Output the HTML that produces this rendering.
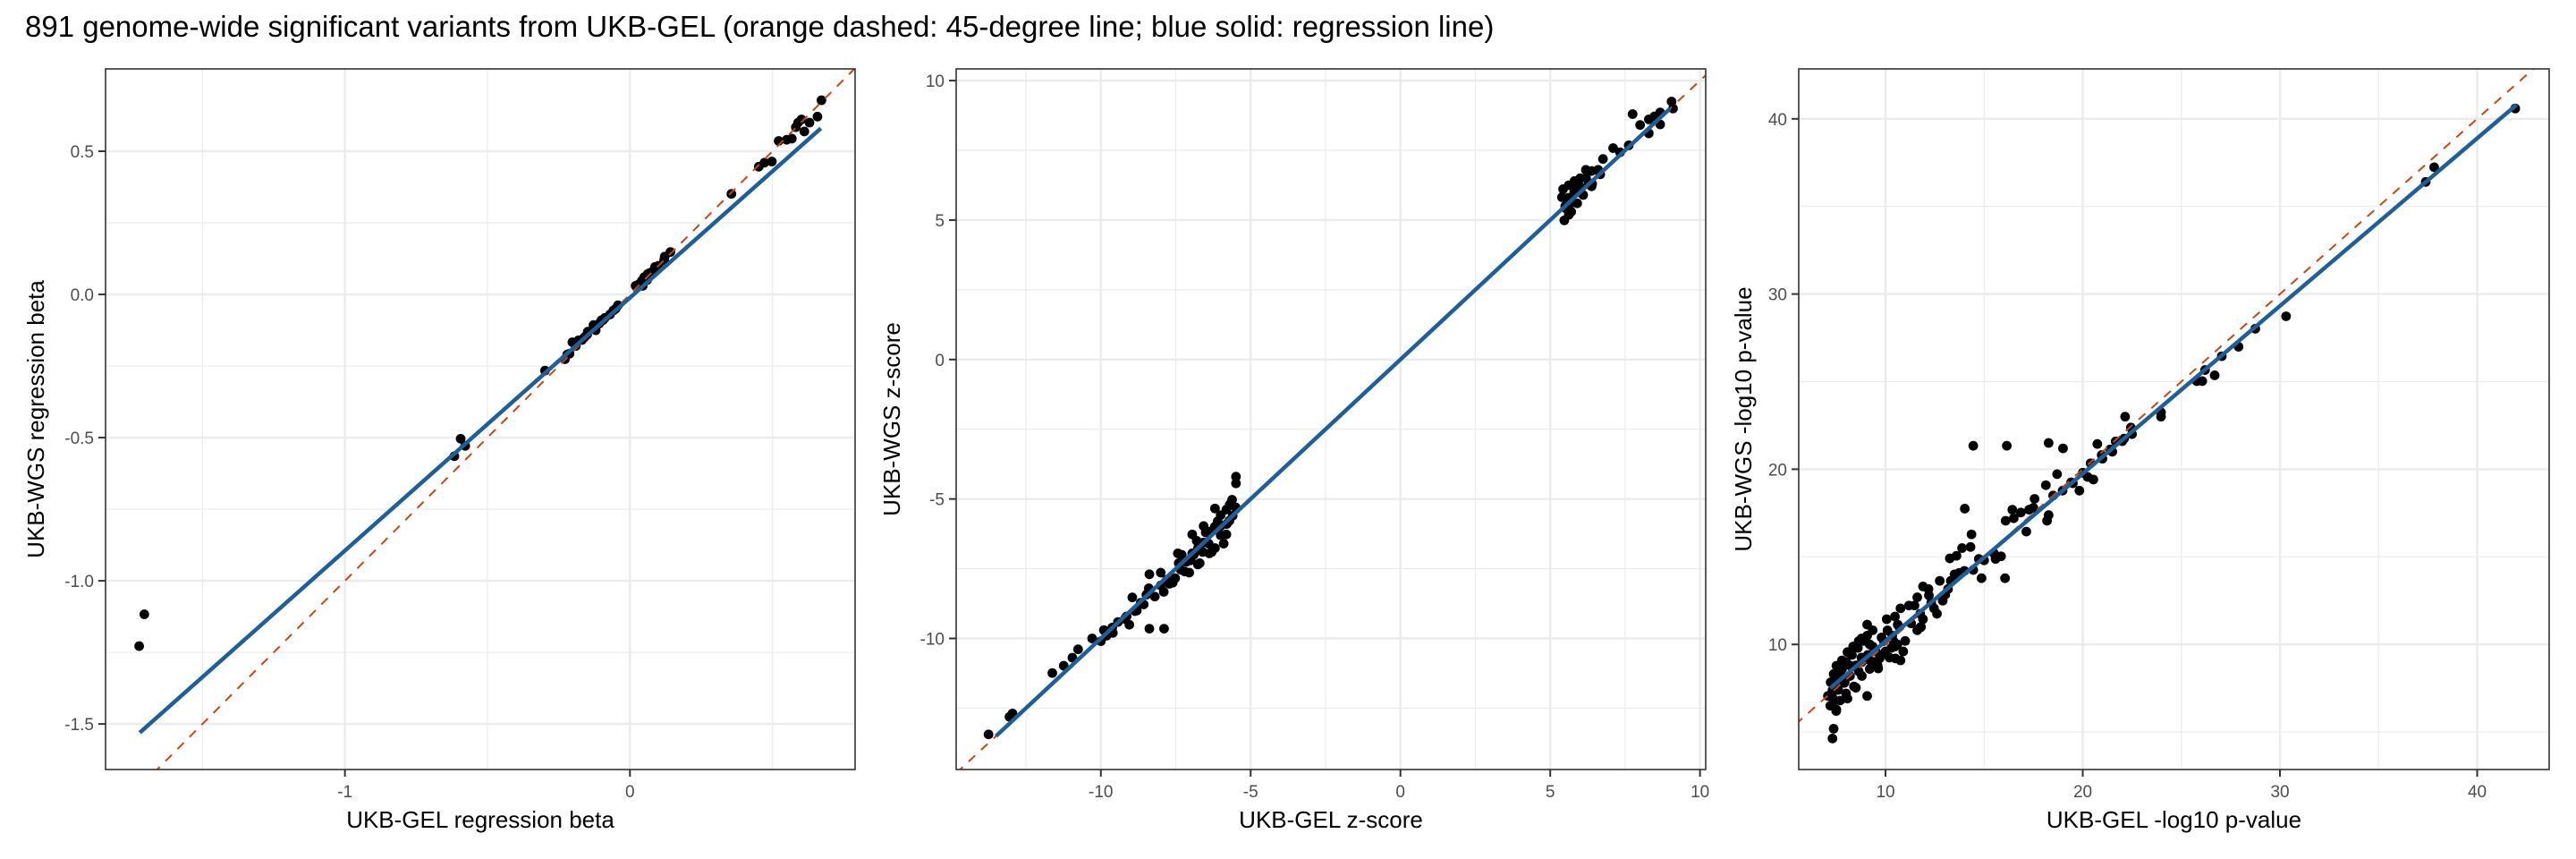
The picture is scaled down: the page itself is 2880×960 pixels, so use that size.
<!DOCTYPE html>
<html><head><meta charset="utf-8">
<style>
html,body{margin:0;padding:0;background:#fff;}
svg{display:block;}
text{font-family:"Liberation Sans",Arial,sans-serif;}
</style></head>
<body>
<svg id="chart" width="2880" height="960" viewBox="0 0 2880 960" xmlns="http://www.w3.org/2000/svg">
<text x="28" y="41" font-size="33" fill="#000">891 genome-wide significant variants from UKB-GEL (orange dashed: 45-degree line; blue solid: regression line)</text>
</svg>
<script>
// Panel 1: regression beta
const p1X = [0.672,0.658,0.602,0.582,0.612,0.568,0.522,0.498,0.472,0.452,0.356,0.142,0.122,0.088,0.062,0.042,0.032,0.05,0.07,0.02,-0.042,-0.058,-0.088,-0.108,-0.128,-0.148,-0.168,-0.202,-0.212,-0.228,-0.07,-0.095,-0.12,-0.16,-0.19,-0.298,-0.594,-0.616,-0.578,-1.704,-1.722,0.59,0.55,0.63,
 -0.05,-0.1,-0.15,-0.18,-0.22,0.04,0.06,0.08,0.1,0.12,0.045];
const p1Y = [0.678,0.621,0.611,0.584,0.569,0.544,0.536,0.464,0.460,0.446,0.351,0.148,0.132,0.096,0.071,0.048,0.036,0.06,0.075,0.03,-0.038,-0.056,-0.082,-0.102,-0.107,-0.130,-0.159,-0.167,-0.207,-0.226,-0.07,-0.09,-0.125,-0.15,-0.18,-0.266,-0.504,-0.565,-0.529,-1.117,-1.228,0.6,0.54,0.6,
 -0.05,-0.09,-0.14,-0.16,-0.21,0.04,0.05,0.08,0.1,0.12,0.03];
const p1Fit = [0.883,-0.0116]; // slope, intercept
const p1FitRange = [-1.72,0.67];
const p1XTicks = [-1,0];
const p1XTickLabels = ["-1","0"];
const p1YTicks = [0.5,0,-0.5,-1,-1.5];
const p1YTickLabels = ["0.5","0.0","-0.5","-1.0","-1.5"];

// Panel 2: z-score
const p2X = [9.05,9.10,8.67,8.48,8.29,8.00,7.75,8.29,8.67,7.62,7.33,7.10,6.76,6.67,6.38,6.19,6.00,5.81,5.62,5.43,5.39,5.52,5.62,5.47,5.71,5.90,6.29,6.38,
 -5.49,-5.49,-5.62,-5.81,-6.19,-6.00,-6.38,-6.57,-6.76,-6.95,-7.14,-7.33,-7.52,-7.71,-7.90,-8.38,-8.00,-8.48,-8.67,-8.95,-8.57,-8.86,-9.14,-9.43,-9.62,-9.81,-10.0,-10.29,-9.05,-8.38,-7.89,-10.76,-10.95,-11.24,-11.62,-12.95,-13.05,-13.75,
 -6.19,-6.57,-6.95,-6.0,-7.43,-6.76,-5.81,-7.05,-5.71,-6.38,
 -5.6,-5.8,-6.0,-6.2,-6.4,-6.6,-6.8,-7.0,-7.2,-7.4,-7.6,-7.8,-8.0,-8.2,-8.4,-8.8,-9.2,-9.6,-9.9,-5.5,-5.7,-6.1,-6.5,-6.9,-7.3,-5.9,-6.3,-6.7,
 5.6,5.8,6.0,5.5,5.7,6.2,6.4,6.6,5.9,6.1];
const p2Y = [9.25,9.00,8.86,8.72,8.61,8.41,8.80,8.11,8.43,7.68,7.43,7.58,7.19,6.64,6.76,6.80,6.50,6.40,6.25,6.11,5.82,5.42,5.19,4.99,5.62,6.21,6.31,6.21,
 -4.20,-4.44,-5.03,-5.38,-5.34,-5.97,-6.17,-6.56,-6.76,-6.95,-7.25,-7.54,-7.84,-8.04,-8.33,-7.70,-7.64,-8.43,-8.72,-8.53,-8.78,-9.02,-9.21,-9.41,-9.61,-9.90,-10.10,-10.0,-9.51,-9.65,-9.65,-10.39,-10.69,-10.98,-11.24,-12.69,-12.81,-13.44,
 -6.76,-5.97,-6.27,-5.58,-6.95,-7.35,-6.27,-7.64,-5.78,-6.95,
 -5.6,-5.9,-6.3,-6.0,-6.6,-6.9,-6.5,-7.2,-7.6,-7.3,-8.0,-7.9,-8.1,-8.5,-8.2,-9.0,-9.3,-9.8,-9.7,-5.3,-5.2,-5.8,-6.2,-7.0,-7.0,-6.6,-6.9,-7.3,
 5.8,6.0,6.2,5.5,5.3,6.5,6.3,6.8,5.6,5.9];
const p2Fit = [1.0,0.0];
const p2FitRange = [-13.5,9.0];
const p2XTicks = [-10,-5,0,5,10];
const p2XTickLabels = ["-10","-5","0","5","10"];
const p2YTicks = [10,5,0,-5,-10];
const p2YTickLabels = ["10","5","0","-5","-10"];

// Panel 3: -log10 p-value
const p3X = [41.93,37.82,37.39,30.31,28.75,27.90,27.05,26.69,26.20,25.78,26.06,23.97,23.97,22.15,22.44,22.10,21.67,21.39,20.96,20.74,20.40,20.25,20.54,19.83,19.41,18.98,18.70,18.27,19.0,18.13,18.27,18.19,17.56,17.28,16.86,17.14,16.43,16.09,16.15,14.45,14.02,14.36,14.31,13.88,13.60,13.26,15.86,15.58,14.73,14.87,16.06,14.45,13.74,13.31,12.75,12.18,11.90,11.61,11.19,10.76,10.48,10.06,9.35,9.07,8.78,8.36,8.07,7.79,7.51,7.37,7.22,7.31,7.37,7.51,7.37,7.31,9.07,8.07,8.50,9.63,10.20,10.76,10.48,11.61,11.76,12.61,12.46,11.76,9.92,9.35,8.78,8.22,7.79,8.64,9.21,9.77,10.34,10.62,9.07,8.64,8.22,7.65,7.93,7.08,7.51,11.47,11.90,12.32,13.03,13.17,
 7.5,7.8,8.0,8.3,8.6,8.9,9.2,9.5,9.8,10.1,10.4,10.7,7.3,7.6,7.9,8.2,8.5,8.8,9.1,9.4,9.7,10.0,10.3,10.6,10.9,8.4,8.8,9.2,9.6,10.5,11.0,11.3,7.2,7.5,7.7,8.0,11.8,12.2,12.9,13.5,14.0,15.0,15.5,16.5,17.5,18.5,19.5,20.0,21.0,21.5,22.0,22.5];
const p3Y = [40.59,37.24,36.40,28.73,28.02,26.99,26.45,25.36,25.66,25.03,25.03,23.0,23.25,23.0,22.38,21.75,21.59,21.13,20.81,21.44,20.34,19.56,19.41,18.78,19.25,18.78,19.72,21.5,21.19,19.09,17.38,17.06,18.31,17.69,17.53,16.44,17.69,17.06,21.34,21.34,17.75,16.28,15.56,15.5,15.06,14.91,15.03,14.88,14.88,13.78,13.78,14.25,14.09,13.63,13.63,13.16,13.31,12.69,12.22,12.06,11.59,11.44,10.81,10.5,10.34,9.88,9.56,9.09,8.78,8.31,7.84,7.38,6.75,6.28,5.19,4.63,7.06,6.91,7.53,8.63,9.25,9.09,9.88,10.81,10.97,11.75,12.06,11.75,10.19,9.88,9.25,8.78,8.16,8.47,9.09,9.41,10.5,11.13,11.13,10.19,9.56,8.47,7.84,7.06,7.53,12.22,11.44,12.38,12.84,13.16,
 8.0,8.6,9.0,9.4,9.8,10.2,10.0,9.6,10.4,10.8,10.2,11.0,7.0,7.4,7.8,8.2,8.8,9.0,9.4,9.0,9.2,9.6,9.8,10.0,9.6,7.6,8.2,8.6,8.8,9.2,10.2,11.2,6.5,6.2,6.8,7.2,11.0,12.8,12.5,14.0,14.2,14.8,15.2,17.2,17.8,18.5,19.2,19.8,20.6,21.0,21.6,22.0];
const p3Fit = [0.957,0.61];
const p3FitRange = [7.2,42.0];
const p3XTicks = [10,20,30,40];
const p3XTickLabels = ["10","20","30","40"];
const p3YTicks = [40,30,20,10];
const p3YTickLabels = ["40","30","20","10"];

const NS = "http://www.w3.org/2000/svg";
const svg = document.getElementById('chart');
function mk(tag, attrs, parent){ const e=document.createElementNS(NS,tag); for(const k in attrs) e.setAttribute(k,attrs[k]); (parent||svg).appendChild(e); return e; }

const panels = [
 {id:'beta', L:118,R:956,T:77,B:860, xd:[-1.84,0.79], yd:[-1.659,0.7875], xs:p1X, ys:p1Y, fit:p1Fit, fr:p1FitRange, xt:p1XTicks, xtl:p1XTickLabels, yt:p1YTicks, ytl:p1YTickLabels, xMinor:[-1.5,-0.5,0.5], yMinor:[0.25,-0.25,-0.75,-1.25], xlab:'UKB-GEL regression beta', ylab:'UKB-WGS regression beta', ylx:40},
 {id:'zscore', L:1069,R:1907,T:77,B:860, xd:[-14.83,10.19], yd:[-14.70,10.42], xs:p2X, ys:p2Y, fit:p2Fit, fr:p2FitRange, xt:p2XTicks, xtl:p2XTickLabels, yt:p2YTicks, ytl:p2YTickLabels, xMinor:[-12.5,-7.5,-2.5,2.5,7.5], yMinor:[7.5,2.5,-2.5,-7.5,-12.5], xlab:'UKB-GEL z-score', ylab:'UKB-WGS z-score', ylx:997},
 {id:'pvalue', L:2011,R:2850,T:77,B:860, xd:[5.6,43.65], yd:[2.86,42.85], xs:p3X, ys:p3Y, fit:p3Fit, fr:p3FitRange, xt:p3XTicks, xtl:p3XTickLabels, yt:p3YTicks, ytl:p3YTickLabels, xMinor:[15,25,35], yMinor:[5,15,25,35], xlab:'UKB-GEL -log10 p-value', ylab:'UKB-WGS -log10 p-value', ylx:1949}
];

panels.forEach(p=>{
  const sx = v => p.L + (v-p.xd[0])/(p.xd[1]-p.xd[0])*(p.R-p.L);
  const sy = v => p.B - (v-p.yd[0])/(p.yd[1]-p.yd[0])*(p.B-p.T);
  const g = mk('g',{});
  
  
  const cid = 'clip-'+p.id;
  const cp = mk('clipPath',{id:cid}, g); mk('rect',{x:p.L,y:p.T,width:p.R-p.L,height:p.B-p.T}, cp);
  mk('rect',{x:p.L,y:p.T,width:p.R-p.L,height:p.B-p.T,fill:'#fff'}, g);
  p.xMinor.forEach(v=>{ const l=mk('line',{x1:sx(v),x2:sx(v),y1:p.T,y2:p.B,stroke:'#ebebeb','stroke-width':1.2},g);
      });
  p.yMinor.forEach(v=>{ const l=mk('line',{x1:p.L,x2:p.R,y1:sy(v),y2:sy(v),stroke:'#ebebeb','stroke-width':1.2},g);
      });
  p.xt.forEach((v,i)=>{ const x=sx(v);
    const l=mk('line',{x1:x,x2:x,y1:p.T,y2:p.B,stroke:'#ebebeb','stroke-width':2.4},g);
     
    const t=mk('line',{x1:x,x2:x,y1:p.B,y2:p.B+8,stroke:'#333','stroke-width':2},g);
     
    const tx=mk('text',{x:x,y:p.B+31,'text-anchor':'middle','font-size':19,fill:'#4d4d4d'},g); tx.textContent=p.xtl[i];
     
  });
  p.yt.forEach((v,i)=>{ const y=sy(v);
    const l=mk('line',{x1:p.L,x2:p.R,y1:y,y2:y,stroke:'#ebebeb','stroke-width':2.4},g);
     
    const t=mk('line',{x1:p.L-8,x2:p.L,y1:y,y2:y,stroke:'#333','stroke-width':2},g);
     
    const tx=mk('text',{x:p.L-13,y:y+7,'text-anchor':'end','font-size':19,fill:'#4d4d4d'},g); tx.textContent=p.ytl[i];
     
  });
  const pg = mk('g',{'clip-path':'url(#'+cid+')'},g);
  p.xs.forEach((v,i)=>{ const c=mk('circle',{cx:sx(v),cy:sy(p.ys[i]),r:5.4,fill:'#000'},pg);
      });
  const lo=Math.min(p.xd[0],p.yd[0]), hi=Math.max(p.xd[1],p.yd[1]);
  const d=mk('line',{x1:sx(lo),y1:sy(lo),x2:sx(hi),y2:sy(hi),stroke:'#c8470f','stroke-width':2,'stroke-dasharray':'10 9'},pg);
   
  const f=x=>p.fit[0]*x+p.fit[1];
  const r=mk('line',{x1:sx(p.fr[0]),y1:sy(f(p.fr[0])),x2:sx(p.fr[1]),y2:sy(f(p.fr[1])),stroke:'#1f5f99','stroke-width':4.5},pg);
   
  const b=mk('rect',{x:p.L,y:p.T,width:p.R-p.L,height:p.B-p.T,fill:'none',stroke:'#333','stroke-width':1.6},g);
   
  const xl=mk('text',{x:(p.L+p.R)/2,y:p.B+65,'text-anchor':'middle','font-size':26,fill:'#000'},g); xl.textContent=p.xlab;
   
  const yc=(p.T+p.B)/2;
  const yl=mk('text',{x:p.ylx+9,y:yc,'text-anchor':'middle','font-size':26,fill:'#000',transform:'rotate(-90 '+(p.ylx+9)+' '+yc+')'},g); yl.textContent=p.ylab;
   
});
</script>
</body></html>
